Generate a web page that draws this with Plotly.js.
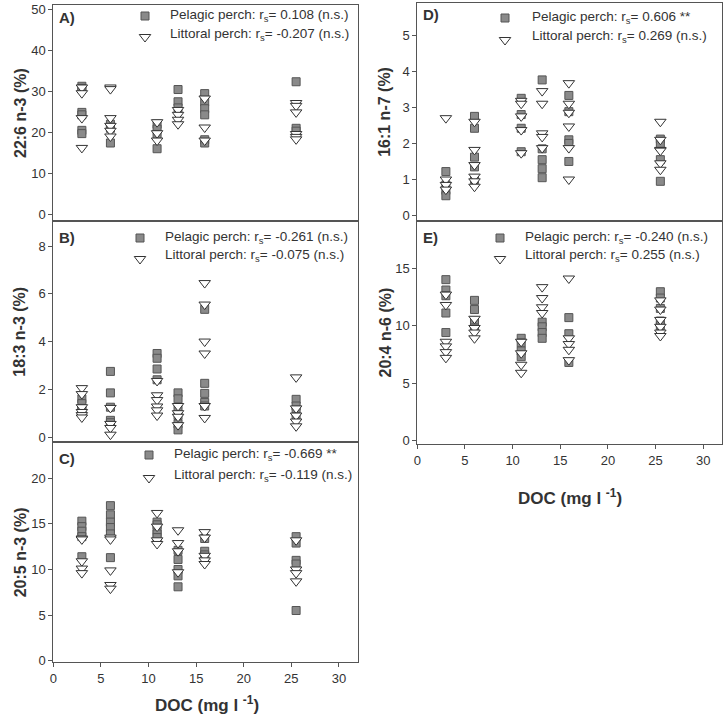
<!DOCTYPE html>
<html>
<head>
<meta charset="utf-8">
<script src="https://cdn.plot.ly/plotly-3.0.1.min.js"></script>
<style>
  html, body { margin: 0; padding: 0; background: #fff; }
  #grafico { width: 725px; height: 725px; }
</style>
</head>
<body>
<div id="grafico"></div>
<script>
  // DOC of each lake (mg l-1)
  const doc = [3.0, 6.0, 10.9, 13.1, 15.9, 25.5];

  // values per lake, in the same order as doc
  const pel226 = [[31.3, 30.8, 24.9, 24.3, 20.5, 19.7], [22.0, 21.0, 17.4], [22.0, 20.8, 19.5, 16.0], [30.5, 27.5, 26.0], [29.5, 27.5, 25.8, 24.3, 18.2, 17.4], [32.4, 21.0, 20.3]];
  const lit226 = [[31.0, 29.6, 23.5, 16.2], [31.0, 30.6, 23.5, 21.6, 20.4, 19.0], [22.5, 19.8, 18.0], [25.5, 24.3, 23.1, 22.0], [28.3, 21.2, 18.0], [27.2, 26.5, 24.9, 19.6, 18.9, 18.3]];

  const pel183 = [[1.6, 1.4, 1.2, 1.1], [2.75, 1.85, 1.25, 0.7, 0.6], [3.5, 3.3, 2.85, 2.4], [1.85, 1.6, 1.2, 0.9, 0.55, 0.3], [5.35, 2.25, 1.83, 1.45, 1.3], [1.58, 1.3, 1.1, 0.85]];
  const lit183 = [[2.05, 1.8, 1.25, 1.05, 0.92, 0.82], [1.22, 0.55, 0.38, 0.1], [2.35, 1.75, 1.55, 1.28, 1.12, 0.9], [1.3, 1.0, 0.85, 0.5], [6.45, 5.55, 4.0, 3.5, 1.3, 0.8], [2.5, 1.2, 0.9, 0.65, 0.45]];

  const pel205 = [[15.3, 14.7, 14.2, 13.6, 11.4], [17.0, 16.0, 15.2, 14.6, 13.9, 11.3], [15.2, 14.9, 14.3, 13.9, 13.5], [12.1, 11.1, 10.0, 9.3, 8.1], [13.4, 12.0, 11.6], [13.6, 12.9, 11.0, 10.6, 5.5]];
  const lit205 = [[13.4, 13.3, 10.9, 10.1, 9.6], [13.5, 13.3, 9.9, 8.3, 7.9], [16.2, 14.7, 13.2, 12.8], [14.3, 12.9, 12.0, 9.7], [14.1, 13.5, 11.5, 11.0, 10.6], [13.2, 10.0, 9.6, 8.7]];

  const pel161 = [[1.22, 0.85, 0.7, 0.55], [2.75, 2.42, 1.62, 1.35, 1.0], [3.25, 2.8, 2.42, 1.77], [3.76, 1.85, 1.55, 1.3, 1.05], [3.33, 2.88, 2.1, 2.0, 1.5], [2.12, 2.0, 1.55, 0.95]];
  const lit161 = [[2.7, 1.0, 0.85, 0.72], [2.6, 1.82, 1.4, 1.08, 0.95, 0.8], [3.18, 3.1, 2.75, 2.37, 1.73], [3.45, 3.1, 2.28, 2.18, 1.87], [3.67, 3.1, 2.85, 2.47, 1.87, 1.0], [2.6, 2.1, 1.82, 1.8, 1.45, 1.27]];

  const pel204 = [[14.0, 13.1, 12.6, 11.1, 9.4], [12.2, 11.4, 10.4, 9.8], [8.9, 8.5, 7.8, 7.3], [10.3, 9.9, 9.4, 8.9], [10.7, 9.3, 6.8], [12.95, 12.4, 11.5, 10.4, 10.0]];
  const lit204 = [[12.7, 11.8, 8.6, 8.2, 7.7, 7.2], [10.6, 9.8, 9.4, 8.9], [8.6, 7.6, 6.6, 5.9], [13.35, 12.4, 11.6, 11.1], [14.1, 8.9, 8.4, 7.9, 7.0], [12.2, 11.4, 10.5, 9.9, 9.4, 9.1]];

  const panelLetters = ['A)', 'B)', 'C)', 'D)', 'E)'];
  const yTitles = ['22:6 n-3 (%)', '18:3 n-3 (%)', '20:5 n-3 (%)', '16:1 n-7 (%)', '20:4 n-6 (%)'];
  const pelTexts = ['r<sub>s</sub>= 0.108 (n.s.)', 'r<sub>s</sub>= -0.261 (n.s.)', 'r<sub>s</sub>= -0.669 **', 'r<sub>s</sub>= 0.606 **', 'r<sub>s</sub>= -0.240 (n.s.)'];
  const litTexts = ['r<sub>s</sub>= -0.207 (n.s.)', 'r<sub>s</sub>= -0.075 (n.s.)', 'r<sub>s</sub>= -0.119 (n.s.)', 'r<sub>s</sub>= 0.269 (n.s.)', 'r<sub>s</sub>= 0.255 (n.s.)'];
  const pelSets = [pel226, pel183, pel205, pel161, pel204];
  const litSets = [lit226, lit183, lit205, lit161, lit204];

  const W = 725, H = 725;
  const px = v => v / W;
  const py = v => 1 - v / H;

  // panel boxes in pixels: [left, top, right, bottom]
  const boxes = [
    [53.3, 5, 358, 221],
    [53.3, 221, 358, 442.3],
    [53.3, 442.3, 358, 662.3],
    [417.3, 2.7, 722.3, 221],
    [417.3, 221, 722.3, 444]
  ];
  const yRanges = [[-1.7, 51.2], [-0.22, 9.05], [-0.18, 23.95], [-0.15, 5.9], [-0.29, 19.1]];
  const yDticks = [10, 2, 5, 1, 5];
  const showX = [false, false, true, false, true];
  // legend rows: [marker x, first row y, second row y, text x]
  const legPos = [
    [145, 16, 37, 168],
    [140, 238, 259, 163],
    [149, 455, 478, 172],
    [505, 18, 40, 530],
    [500, 238, 259, 523]
  ];

  const fontFam = 'Liberation Sans, Arial, sans-serif';
  const sqStyle = { symbol: 'square', size: 8, color: '#8a8a8a', line: { color: '#555555', width: 1 } };
  const triStyle = { symbol: 'triangle-down', size: 10, color: '#ffffff', line: { color: '#333333', width: 1 } };

  const traces = [];
  const layout = {
    width: W, height: H,
    margin: { l: 0, r: 0, t: 0, b: 0 },
    paper_bgcolor: '#fff', plot_bgcolor: 'rgba(0,0,0,0)',
    showlegend: false,
    font: { family: fontFam, color: '#333', size: 13 },
    annotations: []
  };

  function flat(sets) {
    const x = [], y = [];
    sets.forEach((vals, i) => vals.forEach(v => { x.push(doc[i]); y.push(v); }));
    return { x, y };
  }

  function note(x, y, text, font, extra) {
    layout.annotations.push(Object.assign({
      xref: 'paper', yref: 'paper', x: px(x), y: py(y),
      xanchor: 'center', yanchor: 'middle',
      text: text, showarrow: false, font: font
    }, extra || {}));
  }

  boxes.forEach((b, i) => {
    const n = i + 1;
    const xa = n === 1 ? 'x' : 'x' + n;
    const ya = n === 1 ? 'y' : 'y' + n;
    const xk = n === 1 ? 'xaxis' : 'xaxis' + n;
    const yk = n === 1 ? 'yaxis' : 'yaxis' + n;

    layout[xk] = {
      domain: [px(b[0]), px(b[2])], anchor: ya, range: [0, 32],
      showline: true, mirror: true, linecolor: '#555', linewidth: 1,
      showgrid: false, zeroline: false,
      ticks: showX[i] ? 'outside' : '', ticklen: 4, tickcolor: '#555',
      dtick: 5, showticklabels: showX[i],
      tickfont: { size: 13, color: '#333', family: fontFam }
    };
    layout[yk] = {
      domain: [py(b[3]), py(b[1])], anchor: xa, range: yRanges[i],
      showline: true, mirror: true, linecolor: '#555', linewidth: 1,
      showgrid: false, zeroline: false,
      ticks: 'outside', ticklen: 4, tickcolor: '#555',
      dtick: yDticks[i], tick0: 0,
      tickfont: { size: 13, color: '#333', family: fontFam }
    };

    const p = flat(pelSets[i]);
    const l = flat(litSets[i]);
    traces.push({ x: p.x, y: p.y, xaxis: xa, yaxis: ya, mode: 'markers', type: 'scatter', marker: sqStyle, cliponaxis: false });
    traces.push({ x: l.x, y: l.y, xaxis: xa, yaxis: ya, mode: 'markers', type: 'scatter', marker: triStyle, cliponaxis: false });

    // y title
    note(i < 3 ? 20 : 385, (b[1] + b[3]) / 2, '<b>' + yTitles[i] + '</b>',
      { size: 16, family: fontFam, color: '#333' }, { textangle: -90 });
    // panel letter
    note(b[0] + 4, b[1] + (i === 0 || i === 3 ? 12 : 16), '<b>' + panelLetters[i] + '</b>',
      { size: 15, family: fontFam, color: '#333' }, { xanchor: 'left' });
    // legend texts
    const lp = legPos[i];
    note(lp[3], lp[1] - 1, 'Pelagic perch: ' + pelTexts[i],
      { size: 13.5, family: fontFam, color: '#333' }, { xanchor: 'left' });
    note(lp[3], lp[2] - 3, 'Littoral perch: ' + litTexts[i],
      { size: 13.5, family: fontFam, color: '#333' }, { xanchor: 'left' });
  });

  // overlay axis in pixel units for legend symbols
  layout.xaxis6 = { domain: [0, 1], range: [0, W], visible: false, anchor: 'y6', fixedrange: true };
  layout.yaxis6 = { domain: [0, 1], range: [H, 0], visible: false, anchor: 'x6', fixedrange: true };
  traces.push({ x: legPos.map(r => r[0]), y: legPos.map(r => r[1]), xaxis: 'x6', yaxis: 'y6', mode: 'markers', type: 'scatter', marker: sqStyle, hoverinfo: 'skip' });
  traces.push({ x: legPos.map(r => r[0]), y: legPos.map(r => r[2]), xaxis: 'x6', yaxis: 'y6', mode: 'markers', type: 'scatter', marker: triStyle, hoverinfo: 'skip' });

  // x titles
  [[207, 704], [570, 497]].forEach(t => {
    note(t[0], t[1], '<b>DOC (mg l <sup>-1</sup>)</b>', { size: 17, family: fontFam, color: '#333' });
  });

  Plotly.newPlot('grafico', traces, layout, { displayModeBar: false, staticPlot: true });
</script>
</body>
</html>
